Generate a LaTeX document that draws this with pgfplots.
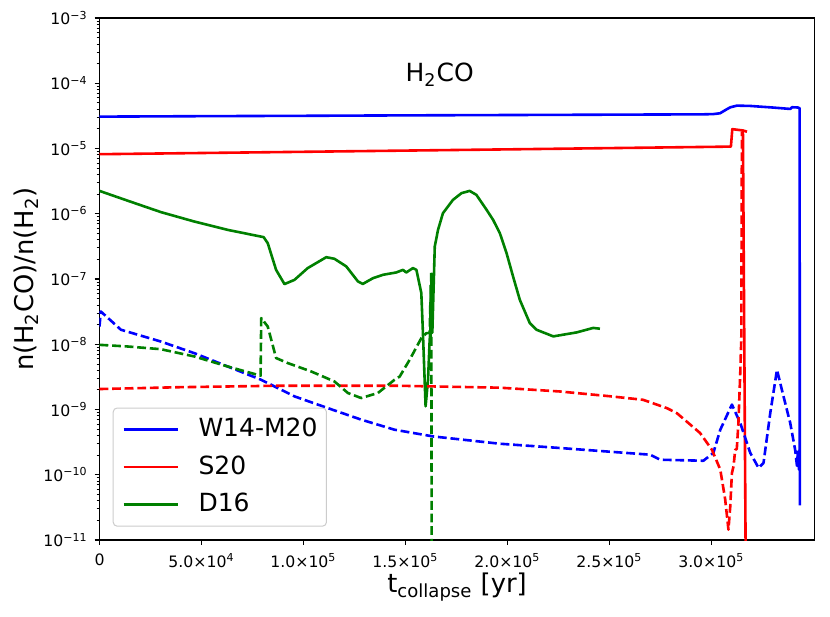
\documentclass[border=0pt]{standalone}
\usepackage{pgfplots}
\pgfplotsset{compat=1.18}
\usepackage{fontspec}
\setmainfont{DejaVu Sans}
\definecolor{mblue}{RGB}{0,0,255}
\definecolor{mred}{RGB}{255,0,0}
\definecolor{mgreen}{RGB}{0,128,0}
\begin{document}
\begin{tikzpicture}
\begin{axis}[
  name=main,
  scale only axis,
  width=357.5pt, height=261pt,
  xmin=0, xmax=350600,
  ymode=log, ymin=1e-11, ymax=1e-3,
  scaled x ticks=false,
  axis line style={line width=0.55pt},
  tick align=outside,
  xtick pos=bottom, ytick pos=left,
  major tick length=2.45pt, minor tick length=1.4pt,
  every tick/.style={black, line width=0.55pt},
  minor tick style={line width=0.4pt},
  xtick={0,50000,100000,150000,200000,250000,300000},
  xticklabels={0,5.0×10\textsuperscript{4},1.0×10\textsuperscript{5},1.5×10\textsuperscript{5},2.0×10\textsuperscript{5},2.5×10\textsuperscript{5},3.0×10\textsuperscript{5}},
  ytick={1e-11,1e-10,1e-9,1e-8,1e-7,1e-6,1e-5,1e-4,1e-3},
  yticklabels={10\textsuperscript{−11},10\textsuperscript{−10},10\textsuperscript{−9},10\textsuperscript{−8},10\textsuperscript{−7},10\textsuperscript{−6},10\textsuperscript{−5},10\textsuperscript{−4},10\textsuperscript{−3}},
  minor ytick={2e-11,3e-11,4e-11,5e-11,6e-11,7e-11,8e-11,9e-11,
    2e-10,3e-10,4e-10,5e-10,6e-10,7e-10,8e-10,9e-10,
    2e-9,3e-9,4e-9,5e-9,6e-9,7e-9,8e-9,9e-9,
    2e-8,3e-8,4e-8,5e-8,6e-8,7e-8,8e-8,9e-8,
    2e-7,3e-7,4e-7,5e-7,6e-7,7e-7,8e-7,9e-7,
    2e-6,3e-6,4e-6,5e-6,6e-6,7e-6,8e-6,9e-6,
    2e-5,3e-5,4e-5,5e-5,6e-5,7e-5,8e-5,9e-5,
    2e-4,3e-4,4e-4,5e-4,6e-4,7e-4,8e-4,9e-4},
  ticklabel style={font=\fontsize{7.85}{9}\selectfont},
  xticklabel style={yshift=-1pt},
  xlabel={t\textsubscript{collapse} [yr]},
  ylabel={n(H\textsubscript{2}CO)/n(H\textsubscript{2})},
  label style={font=\fontsize{12.9}{15}\selectfont},
  xlabel style={at={(axis description cs:0.5,0)}, anchor=north, yshift=-16pt, inner sep=0pt},
  every axis y label/.style={at={(axis description cs:-0.103,0.5)}, rotate=90, anchor=center, inner sep=0pt, font=\fontsize{12.9}{15}\selectfont},
  legend cell align=left,
  legend image code/.code={\draw[#1, line width=1.3pt] (0pt,0pt) -- (27pt,0pt);},
  legend style={at={(axis description cs:0.0185,0.0255)}, anchor=south west,
    draw=black!20, line width=0.5pt, rounded corners=2pt, fill=white, fill opacity=0.8, text opacity=1,
    font=\fontsize{12.5}{15}\selectfont,
    inner xsep=4.5pt, inner ysep=4.8pt,
    nodes={inner sep=0pt, text height=9.5pt, text depth=2.5pt},
    row sep=6.75pt,
    /tikz/every odd column/.append style={column sep=9.85pt}},
  every axis plot/.append style={line width=1.3pt, line join=round},
]
% solid lines (legend)
\addplot[mblue] coordinates {
(0,3.08e-5) (50000,3.13e-5) (100000,3.17e-5) (150000,3.22e-5) (200000,3.26e-5) (250000,3.30e-5)
(296000,3.34e-5) (301000,3.37e-5) (304300,3.47e-5) (307000,3.9e-5) (309300,4.28e-5) (312600,4.54e-5)
(319100,4.49e-5) (330000,4.25e-5) (338700,4.04e-5) (339600,4.29e-5) (342500,4.25e-5) (343300,4.14e-5)
(343400,3.4e-11)};
\addlegendentry{W14-M20}
\addplot[mred] coordinates {
(0,8.18e-6) (100000,8.9e-6) (200000,9.7e-6) (300000,1.06e-5) (309600,1.07e-5) (310300,1.98e-5)
(315500,1.89e-5) (317000,1e-12)};
\addlegendentry{S20}
\addplot[mgreen] coordinates {
(0,2.24e-6) (13700,1.59e-6) (30100,1.06e-6) (46500,7.6e-7) (62800,5.67e-7) (80500,4.38e-7)
(82500,3.54e-7) (86600,1.38e-7) (90700,8.36e-8) (95600,9.7e-8) (102100,1.47e-7) (111200,2.16e-7)
(115200,2.04e-7) (121000,1.56e-7) (126700,9.2e-8) (129100,8.4e-8) (134100,1.03e-7) (139000,1.16e-7)
(145500,1.26e-7) (148800,1.38e-7) (150400,1.26e-7) (153700,1.47e-7) (155400,1.38e-7) (157800,6.1e-8)
(158600,1.48e-8) (159900,1.12e-9) (161100,2.86e-9) (161900,1.17e-8) (162200,1.5e-8) (162400,8e-8)
(162600,1.5e-8) (162800,1.2e-7) (163200,1.5e-8) (164400,3.15e-7) (166000,5.67e-7) (168400,1.02e-6)
(173300,1.63e-6) (177500,2.07e-6) (181500,2.24e-6) (184800,1.95e-6) (189800,1.15e-6) (193000,8.07e-7)
(196300,5.05e-7) (199600,2.49e-7) (202800,1.09e-7) (206100,4.8e-8) (211000,2.11e-8) (214300,1.67e-8)
(222500,1.32e-8) (234000,1.52e-8) (242100,1.78e-8) (245400,1.73e-8)};
\addlegendentry{D16}
\addplot[mred, forget plot] coordinates {(315500,1.89e-5) (317500,1.81e-5)};
% dashed lines
\addplot[mblue, dash pattern=on 4.4pt off 1.9pt, forget plot] coordinates {
(0,1.87e-8) (640,3.18e-8) (10500,1.67e-8) (30100,1.1e-8) (46500,7.3e-9) (62800,4.57e-9) (79200,2.86e-9)
(95600,1.59e-9) (112000,1.05e-9) (128300,7.0e-10) (144700,4.9e-10) (163500,3.87e-10) (196300,2.99e-10)
(225800,2.57e-10) (270000,2.03e-10) (274900,1.70e-10) (296100,1.64e-10) (301000,2.16e-10) (304400,4.9e-10)
(310100,1.19e-9) (314200,6.2e-10) (319100,2.16e-10) (323200,1.27e-10) (325600,1.52e-10) (328900,8.8e-10)
(332200,4.06e-9) (335400,1.59e-9) (338700,6.2e-10) (341100,2.42e-10) (342000,1.37e-10) (342500,2.42e-10)
(343000,1.2e-10) (343300,2.42e-10)};
\addplot[mred, dash pattern=on 4.4pt off 1.9pt, forget plot] coordinates {
(0,2.06e-9) (40000,2.2e-9) (85800,2.31e-9) (147000,2.31e-9) (196300,2.16e-9) (225700,1.89e-9)
(250000,1.6e-9) (266500,1.41e-9) (278200,1.05e-9) (283100,8.8e-10) (294500,4.36e-10) (300300,2.42e-10)
(304400,1.2e-10) (306800,4.2e-11) (308400,1.44e-11) (309300,3.3e-11) (310100,1.06e-10) (310900,1.35e-10)
(311700,2.4e-10) (312500,2.5e-10) (313300,6.3e-10) (314200,3.7e-9) (314700,1.2e-8) (315000,1.8e-5)};
\addplot[mgreen, dash pattern=on 4.4pt off 1.9pt, forget plot] coordinates {
(0,9.8e-9) (13700,9.25e-9) (30100,8.4e-9) (46500,6.5e-9) (62800,4.57e-9) (79000,3.3e-9) (79300,2.52e-8)
(82500,1.87e-8) (86600,6.15e-9) (92300,5.15e-9) (103800,3.83e-9) (115200,2.69e-9) (121800,1.79e-9)
(128300,1.5e-9) (136500,1.79e-9) (144700,2.86e-9) (147200,3.2e-9) (152100,5.8e-9) (157800,1.24e-8)
(160300,1.48e-8) (161900,1.48e-8) (162200,4e-8) (162400,1.2e-8) (162700,1.3e-7) (162900,1e-12)};
\node[font=\fontsize{12.5}{15}\selectfont] at (axis cs:166800,1.34e-4) {H\textsubscript{2}CO};
\end{axis}
\pgfresetboundingbox
\path[use as bounding box] ([xshift=-49.75pt,yshift=-38pt]main.south west) rectangle ([xshift=7.75pt,yshift=9pt]main.north east);
\end{tikzpicture}
\end{document}
